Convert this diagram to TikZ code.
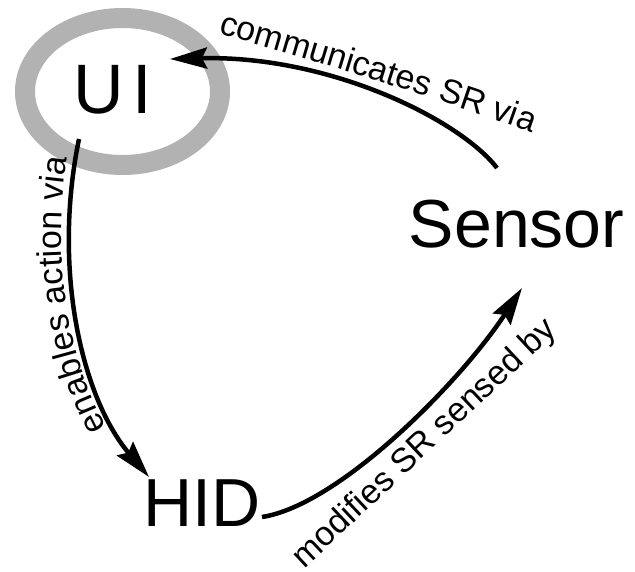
\documentclass[tikz,border=0pt]{standalone}
\usepackage{fontspec}
\setmainfont{Liberation Sans}
\usetikzlibrary{arrows.meta,decorations.text}
\definecolor{ringgray}{RGB}{178,178,178}
\newcommand{\bigfont}{\fontsize{68}{68}\selectfont}
\newcommand{\lblfont}{\fontsize{34}{34}\selectfont}
\begin{document}
\begin{tikzpicture}[x=1pt,y=-1pt,
  term/.style={inner sep=0pt, font=\bigfont},
  conn/.style={line width=4.5pt, -{Stealth[length=37pt,width=21pt,inset=5pt]}},
  ringline/.style={draw=ringgray, line width=20pt},
  lblpath/.style={decorate, decoration={text along path, text align=center, text={#1}}}]
\useasboundingbox (0,0) rectangle (635,572);
\draw[ringline] (122.5,91.5) ellipse [x radius=97.5pt, y radius=73.5pt];
\node[term, font=\fontsize{70}{70}\selectfont] (ui) at (112.5,90) {U\kern9pt I};
\node[term] (sensor) at (516.7,224) {Sensor};
\node[term] (hid) at (202,503) {HID};
\coordinate (uiOut) at (79,139);
\coordinate (uiIn) at (170,59);
\coordinate (senIn) at (522,288);
\coordinate (senOut) at (497,168);
\coordinate (hidIn) at (149,477);
\coordinate (hidOut) at (262,517);
\draw[conn] (senOut) .. controls (460,120) and (330,55) .. (uiIn);
\draw[conn] (uiOut) .. controls (52,270) and (82,398) .. (hidIn);
\draw[conn] (hidOut) .. controls (340,505) and (462,380) .. (senIn);
\path[lblpath={|\lblfont|communicates SR via}] (214,32) .. controls (320,62) and (430,96) .. (536,134);
\path[decorate, decoration={text along path, raise=8pt, text align={left indent=64pt}, text={|\lblfont|enables action via}}]
  (hidIn) .. controls (82,398) and (52,270) .. (uiOut);
\path[lblpath={|\lblfont|modifies SR sensed by}] (299,574) .. controls (392,487) and (472,412) .. (563,327);
\end{tikzpicture}
\end{document}
